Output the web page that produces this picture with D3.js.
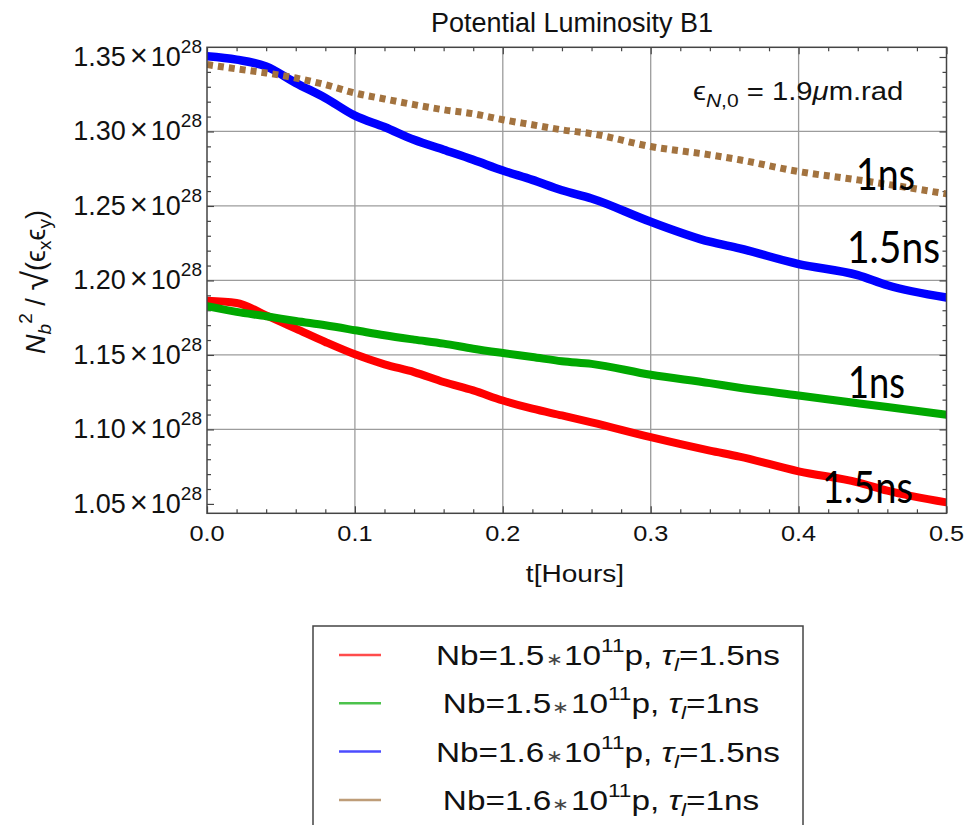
<!DOCTYPE html>
<html>
<head>
<meta charset="utf-8">
<script src="https://cdn.jsdelivr.net/npm/d3@7"></script>
<style>
  body { margin: 0; background: #fff; }
  svg { display: block; }
</style>
</head>
<body>
<svg id="chart" width="967" height="825"></svg>
<script>
// Time after start of fill [hours]
const hours = [0, 0.02, 0.04, 0.06, 0.08, 0.1, 0.12, 0.14, 0.16, 0.18, 0.2, 0.22, 0.24, 0.26, 0.3, 0.34, 0.36, 0.4, 0.44, 0.46, 0.5];

// Nb^2 / sqrt(eps_x eps_y), in units of 1e28
const lumNb15Tau15 = [1.1863, 1.1849, 1.1766, 1.1677, 1.1587, 1.1504, 1.1437, 1.1385, 1.1318, 1.1262, 1.1194, 1.1139, 1.1094, 1.1048, 1.0948, 1.0858, 1.0818, 1.0719, 1.0645, 1.0589, 1.0510];
const lumNb15Tau10 = [1.1827, 1.1789, 1.1760, 1.1728, 1.1699, 1.1666, 1.1632, 1.1603, 1.1576, 1.1542, 1.1513, 1.1486, 1.1458, 1.1440, 1.1367, 1.1311, 1.1280, 1.1228, 1.1176, 1.1150, 1.1098];
const lumNb16Tau15 = [1.3505, 1.3482, 1.3437, 1.3326, 1.3225, 1.3106, 1.3030, 1.2944, 1.2877, 1.2810, 1.2738, 1.2675, 1.2605, 1.2550, 1.2394, 1.2260, 1.2215, 1.2110, 1.2036, 1.1968, 1.1886];
const lumNb16Tau10 = [1.3449, 1.3420, 1.3393, 1.3359, 1.3314, 1.3258, 1.3218, 1.3180, 1.3146, 1.3119, 1.3079, 1.3045, 1.3011, 1.2985, 1.2899, 1.2843, 1.2810, 1.2731, 1.2675, 1.2645, 1.2581];

// Legend / series descriptors
const bunchIntensity = ["1.5", "1.5", "1.6", "1.6"];
const bunchLength = ["1.5ns", "1ns", "1.5ns", "1ns"];
const seriesColors = ["#ff0000", "#00a800", "#0000ff", "#a3733f"];
const endLabels = ["1.5ns", "1ns", "1.5ns", "1ns"];

// Axis ticks
const xTicks = [0, 0.1, 0.2, 0.3, 0.4, 0.5];
const yTicks = [1.05, 1.10, 1.15, 1.20, 1.25, 1.30, 1.35];
const xGrid = [0.1, 0.2, 0.3, 0.4];
const yGrid = [1.10, 1.15, 1.20, 1.25, 1.30];

const titleText = "Potential Luminosity B1";
const xTitle = "t[Hours]";

const allSeries = [lumNb15Tau15, lumNb15Tau10, lumNb16Tau15, lumNb16Tau10];

const svg = d3.select("#chart");
const plot = { left: 207, right: 946.5, top: 47.3, bottom: 513.3 };
const x = d3.scaleLinear().domain([0, 0.5]).range([plot.left, plot.right]);
const y = d3.scaleLinear().domain([1.0437, 1.3565]).range([plot.bottom, plot.top]);

const sans = "'Liberation Sans', Arial, Helvetica, sans-serif";
const frameColor = "#444";

// Grid lines
svg.append("g").selectAll("line").data(xGrid).join("line")
  .attr("x1", d => x(d)).attr("x2", d => x(d))
  .attr("y1", plot.top).attr("y2", plot.bottom)
  .attr("stroke", "#9c9c9c").attr("stroke-width", 1.3);
svg.append("g").selectAll("line").data(yGrid).join("line")
  .attr("y1", d => y(d)).attr("y2", d => y(d))
  .attr("x1", plot.left).attr("x2", plot.right)
  .attr("stroke", "#9c9c9c").attr("stroke-width", 1.3);

// Inward ticks on all four sides (minor every 0.02 h / 0.01e28, major at labels)
const xMinor = d3.range(0, 0.5001, 0.02).filter(v => Math.abs(v * 10 - Math.round(v * 10)) > 1e-6);
const yMinor = d3.range(1.04, 1.3601, 0.01).filter(v => Math.abs(v * 20 - Math.round(v * 20)) > 1e-6 && v > 1.0437 && v < 1.3565);

function styleTicks(g) {
  g.select(".domain").remove();
  g.selectAll(".tick line").attr("stroke", frameColor).attr("stroke-width", 1.2);
}
const axisDefs = [
  [d3.axisBottom, `translate(0,${plot.bottom})`, x, xMinor, xTicks],
  [d3.axisTop, `translate(0,${plot.top})`, x, xMinor, xTicks],
  [d3.axisLeft, `translate(${plot.left},0)`, y, yMinor, yTicks],
  [d3.axisRight, `translate(${plot.right},0)`, y, yMinor, yTicks]
];
axisDefs.forEach(([axisFn, tr, sc, minor, major]) => {
  svg.append("g").attr("transform", tr)
    .call(axisFn(sc).tickValues(minor).tickSize(-4).tickFormat(""))
    .call(styleTicks);
  svg.append("g").attr("transform", tr)
    .call(axisFn(sc).tickValues(major).tickSize(-7).tickFormat(""))
    .call(styleTicks);
});

// Curves
svg.append("clipPath").attr("id", "plotClip")
  .append("rect")
  .attr("x", plot.left).attr("y", plot.top)
  .attr("width", plot.right - plot.left).attr("height", plot.bottom - plot.top);

const line = d3.line().x(d => x(d[0])).y(d => y(d[1])).curve(d3.curveMonotoneX);
const curves = svg.append("g").attr("clip-path", "url(#plotClip)");
allSeries.forEach((vals, i) => {
  const pts = hours.map((h, k) => [h, vals[k]]);
  const path = curves.append("path")
    .attr("d", line(pts))
    .attr("fill", "none")
    .attr("stroke", seriesColors[i])
    .attr("stroke-linejoin", "round");
  if (i === 3) {
    path.attr("stroke-width", 7).attr("stroke-dasharray", "6,5").attr("stroke-linecap", "butt");
  } else {
    path.attr("stroke-width", i === 2 ? 8.5 : 8).attr("stroke-linecap", "round");
  }
});

// Frame
svg.append("rect")
  .attr("x", plot.left).attr("y", plot.top)
  .attr("width", plot.right - plot.left).attr("height", plot.bottom - plot.top)
  .attr("fill", "none").attr("stroke", frameColor).attr("stroke-width", 1.5);

// Title
svg.append("text")
  .attr("x", 572).attr("y", 32)
  .attr("text-anchor", "middle")
  .attr("font-family", sans).attr("font-size", 27)
  .attr("fill", "#111")
  .text(titleText);

// Y tick labels: "1.35 × 10^28"
yTicks.forEach(v => {
  const t = svg.append("text")
    .attr("x", 202).attr("y", y(v) + 9)
    .attr("text-anchor", "end")
    .attr("font-family", sans).attr("font-size", 27)
    .attr("fill", "#111");
  t.append("tspan").text(d3.format(".2f")(v));
  t.append("tspan").attr("dx", 4).attr("font-size", 31).text("\u00d7");
  t.append("tspan").attr("dx", 3).text("10");
  t.append("tspan").attr("dy", -13).attr("font-size", 19).text("28");
});

// Slightly wide text used by the x axis, legend and annotation
function wideText(parent, px, py, anchor, sx, size) {
  return parent.append("g")
    .attr("transform", `translate(${px},${py}) scale(${sx},1)`)
    .append("text")
    .attr("text-anchor", anchor)
    .attr("font-family", sans).attr("font-size", size)
    .attr("fill", "#111");
}

// X tick labels
xTicks.forEach(v => {
  wideText(svg, x(v), 540.7, "middle", 1.15, 22).text(d3.format(".1f")(v));
});
wideText(svg, 575, 581.7, "middle", 1.17, 24).text(xTitle);

// Y axis title: N_b^2 / sqrt(eps_x eps_y)
const yTitle = svg.append("text")
  .attr("transform", "translate(45,282) rotate(-90)")
  .attr("text-anchor", "middle")
  .attr("font-family", sans).attr("font-size", 27)
  .attr("fill", "#111");
yTitle.append("tspan").attr("font-style", "italic").text("N");
yTitle.append("tspan").attr("font-style", "italic").attr("font-size", 19).attr("dy", 6).text("b");
yTitle.append("tspan").attr("font-size", 19).attr("dy", -19).text("2");
yTitle.append("tspan").attr("dy", 13).text(" / ");
yTitle.append("tspan").attr("font-size", 36).attr("dy", 3).text("\u221a");
yTitle.append("tspan").attr("dy", -3).text("(\u03f5");
yTitle.append("tspan").attr("font-size", 19).attr("dy", 6).text("x");
yTitle.append("tspan").attr("dy", -6).text("\u03f5");
yTitle.append("tspan").attr("font-size", 19).attr("dy", 6).text("y");
yTitle.append("tspan").attr("dy", -6).text(")");

// Emittance annotation
const ann = wideText(svg, 693, 100, "start", 1.17, 25);
ann.append("tspan").text("\u03f5");
ann.append("tspan").attr("font-style", "italic").attr("font-size", 18).attr("dy", 7).text("N");
ann.append("tspan").attr("font-size", 18).text(",0");
ann.append("tspan").attr("dy", -7).text(" = 1.9");
ann.append("tspan").attr("font-style", "italic").text("\u03bc");
ann.append("tspan").text("m.rad");

// Curve end labels
const endLabelSpots = [
  { dx: -33.5, y: 503, len: 91 },
  { dx: -41.5, y: 398, len: 57 },
  { dx: -6.5, y: 263, len: 93 },
  { dx: -31.5, y: 190, len: 59 }
];
endLabels.forEach((lab, i) => {
  const s = endLabelSpots[i];
  svg.append("text")
    .attr("x", x(0.5) + s.dx - s.len).attr("y", s.y)
    .attr("text-anchor", "start")
    .attr("font-family", "Lato, 'Open Sans', sans-serif")
    .attr("font-size", 45)
    .attr("textLength", s.len)
    .attr("lengthAdjust", "spacingAndGlyphs")
    .attr("fill", "#000")
    .text(lab);
});

// Legend
svg.append("rect")
  .attr("x", 313).attr("y", 626)
  .attr("width", 490).attr("height", 230)
  .attr("fill", "#fff").attr("stroke", frameColor).attr("stroke-width", 1.5);

bunchIntensity.forEach((nb, i) => {
  const base = 665 + i * 48.3;
  svg.append("line")
    .attr("x1", 339).attr("x2", 381)
    .attr("y1", base - 10).attr("y2", base - 10)
    .attr("stroke", seriesColors[i]).attr("stroke-width", 2.5)
    .attr("stroke-opacity", 0.7);
  const cx = bunchLength[i] === "1ns" ? 601 : 608;
  const t = wideText(svg, cx, base, "middle", 1.19, 28);
  t.append("tspan").text(`Nb=${nb}`);
  t.append("tspan").attr("font-size", 17).attr("dx", 1).attr("fill", "#444").text("\u2217");
  t.append("tspan").attr("dx", 1).text("10");
  t.append("tspan").attr("font-size", 19).attr("dy", -13).text("11");
  t.append("tspan").attr("dy", 13).text("p, ");
  t.append("tspan").attr("font-style", "italic").text("\u03c4");
  t.append("tspan").attr("font-style", "italic").attr("font-size", 19).attr("dy", 6).text("l");
  t.append("tspan").attr("dy", -6).text("=" + bunchLength[i]);
});
</script>
</body>
</html>
